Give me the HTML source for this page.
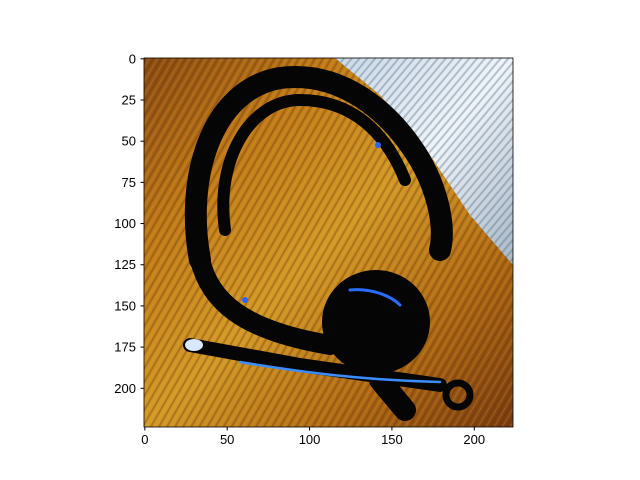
<!DOCTYPE html>
<html><head><meta charset="utf-8"><style>
body{margin:0;background:#fff;}
svg{display:block;font-family:"Liberation Sans",sans-serif;}
</style></head><body>
<svg id="c" width="640" height="480">
<defs>
<linearGradient id="wood" x1="0" y1="0" x2="1" y2="1">
<stop offset="0" stop-color="#8a4a12"/><stop offset="0.25" stop-color="#c07a18"/>
<stop offset="0.5" stop-color="#d39a28"/><stop offset="0.75" stop-color="#b06a14"/><stop offset="1" stop-color="#7a3c10"/>
</linearGradient>
<pattern id="grain" width="7" height="7" patternUnits="userSpaceOnUse" patternTransform="rotate(-60)">
<rect width="7" height="2" fill="#5a2a08" opacity="0.3"/>
<rect y="4" width="7" height="1" fill="#e8b040" opacity="0.25"/>
</pattern>
<linearGradient id="light" x1="0" y1="0" x2="1" y2="1">
<stop offset="0" stop-color="#c8d8e8"/><stop offset="0.5" stop-color="#eef4fa"/><stop offset="1" stop-color="#a8b8c8"/>
</linearGradient>
<pattern id="grain2" width="6" height="6" patternUnits="userSpaceOnUse" patternTransform="rotate(-50)">
<rect width="6" height="2" fill="#506070" opacity="0.35"/>
</pattern>
<clipPath id="ax"><rect x="144" y="58" width="369" height="369"/></clipPath>
</defs>
<g clip-path="url(#ax)">
<rect x="144" y="58" width="369" height="369" fill="url(#wood)"/>
<rect x="144" y="58" width="369" height="369" fill="url(#grain)"/>
<polygon points="335,58 513,58 513,265 470,215 420,140 380,95" fill="url(#light)"/>
<polygon points="335,58 513,58 513,265 470,215 420,140 380,95" fill="url(#grain2)"/>
<g fill="none" stroke="#050505" stroke-linecap="round">
<path d="M200,260 C185,180 210,90 280,78 C340,70 390,110 420,160 C440,195 445,230 440,250" stroke-width="22"/>
<path d="M225,230 C215,160 250,100 300,100 C350,100 385,130 405,180" stroke-width="12"/>
<path d="M200,260 C210,300 240,330 330,345" stroke-width="20"/>
<ellipse cx="376" cy="322" rx="54" ry="52" fill="#050505" stroke="none"/>
<path d="M190,345 L300,365 L440,385" stroke-width="14"/>
<path d="M380,380 L405,410" stroke-width="22"/>
<circle cx="458" cy="395" r="12" stroke-width="7"/>
<path d="M240,362 C300,372 360,380 440,382" stroke="#3a8cff" stroke-width="2.5"/>
<path d="M350,290 C370,288 390,295 400,305" stroke="#2a6cff" stroke-width="3"/>
<ellipse cx="194" cy="345" rx="9" ry="6" fill="#d8e8ff" stroke="none"/>
<circle cx="245" cy="300" r="3" fill="#3060ff" stroke="none"/>
<circle cx="378" cy="145" r="3" fill="#3060ff" stroke="none"/>
</g>
</g>
<rect x="144" y="58" width="369" height="369" fill="none" stroke="#000" stroke-width="0.8"/>
<g id="xt"></g>
<g id="yt"></g>
</svg>
<script>
const xTicks=[0,50,100,150,200];
const yTicks=[0,25,50,75,100,125,150,175,200];
const ns="http://www.w3.org/2000/svg";
const sc=369/224;
const X=v=>144+(v+0.5)*sc, Y=v=>58+(v+0.5)*sc;
const xt=document.getElementById('xt'), yt=document.getElementById('yt');
xTicks.forEach(v=>{
 const l=document.createElementNS(ns,'line');
 l.setAttribute('x1',X(v));l.setAttribute('x2',X(v));l.setAttribute('y1',427);l.setAttribute('y2',430.5);l.setAttribute('stroke','#000');
 
 
 xt.appendChild(l);
 const t=document.createElementNS(ns,'text');
 t.setAttribute('x',X(v));t.setAttribute('y',444);t.setAttribute('font-size','13');t.setAttribute('text-anchor','middle');t.textContent=v;
 
 
 xt.appendChild(t);
});
yTicks.forEach(v=>{
 const l=document.createElementNS(ns,'line');
 l.setAttribute('x1',140.5);l.setAttribute('x2',144);l.setAttribute('y1',Y(v));l.setAttribute('y2',Y(v));l.setAttribute('stroke','#000');
 
 
 yt.appendChild(l);
 const t=document.createElementNS(ns,'text');
 t.setAttribute('x',136);t.setAttribute('y',Y(v)+4.5);t.setAttribute('font-size','13');t.setAttribute('text-anchor','end');t.textContent=v;
 
 
 yt.appendChild(t);
});
</script>
</body></html>
